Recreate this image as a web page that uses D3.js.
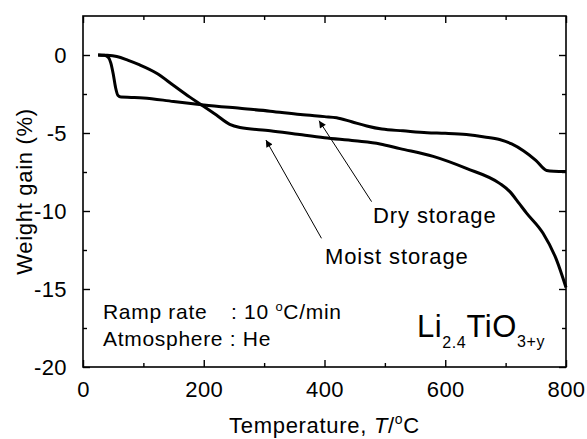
<!DOCTYPE html>
<meta charset="utf-8">
<script src="https://cdn.jsdelivr.net/npm/d3@7"></script>
<style>
body { margin: 0; background: #fff; }
text { font-family: "Liberation Sans", Arial, sans-serif; fill: #000; }
.curve { fill: none; stroke: #000; stroke-width: 3px; stroke-linejoin: round; }
.arrow { stroke: #000; stroke-width: 1px; }
.frame { fill: none; stroke: #000; stroke-width: 1.6px; }
</style>
<body>
<script>

// Temperature (degC) and weight gain (%)
var dryT = [25, 35, 42, 46, 50, 54, 58, 63, 80, 100, 150, 200, 260, 310, 360, 400, 420, 445, 470, 495,
            530, 570, 600, 635, 665, 690, 710, 730, 750, 768, 780, 800];
var dryW = [0, -0.02, -0.15, -0.5, -1.2, -2.1, -2.6, -2.7, -2.72, -2.75, -2.98, -3.2, -3.42, -3.6, -3.82, -3.95, -4.02, -4.28, -4.55, -4.75,
            -4.86, -4.98, -5.02, -5.1, -5.25, -5.42, -5.7, -6.15, -6.75, -7.4, -7.45, -7.47];

var moistT = [25, 40, 56, 75, 94, 122, 149, 177, 199, 221, 243, 260, 310, 359, 400, 450, 492, 525,
              580, 635, 690, 707, 722, 735, 762, 784, 800];
var moistW = [0, -0.02, -0.1, -0.35, -0.64, -1.17, -1.92, -2.7, -3.27, -3.85, -4.45, -4.65, -4.85, -5.1, -5.3, -5.5, -5.7, -6.0,
              -6.5, -7.27, -8.23, -8.76, -9.5, -10.15, -11.43, -13.1, -14.9];

var xTicks = [0, 200, 400, 600, 800];
var xMinor = [100, 300, 500, 700];
var yTicks = [0, -5, -10, -15, -20];
var yMinor = [-2.5, -7.5, -12.5, -17.5];

// arrows: [tipT, tipW, tailT, tailW]
var dryArrow = [391, -4.21, 478, -9.4];
var moistArrow = [303, -5.45, 395, -11.75];

var width = 587, height = 439;
var margin = {top: 16, right: 21, bottom: 72, left: 83};

var x = d3.scaleLinear().domain([0, 800]).range([margin.left, width - margin.right]);
var y = d3.scaleLinear().domain([-20, 2.5]).range([height - margin.bottom, margin.top]);

var fmt = function(d) { return String(d); };  // plain hyphen minus like the original

var svg = d3.select("body").append("svg")
    .attr("width", width)
    .attr("height", height);

svg.append("defs").append("marker")
    .attr("id", "head")
    .attr("viewBox", "0 0 10 10")
    .attr("refX", 10)
    .attr("refY", 5)
    .attr("markerWidth", 9)
    .attr("markerHeight", 7)
    .attr("markerUnits", "userSpaceOnUse")
    .attr("orient", "auto")
  .append("path")
    .attr("d", "M0,0L10,5L0,10z");

// axes, ticks inward
function ax(gen, tx, ty, vals, size, labels, pad) {
  var g = svg.append("g").attr("transform", "translate(" + tx + "," + ty + ")")
      .call(gen.tickValues(vals).tickSizeInner(-size).tickSizeOuter(0)
               .tickPadding(pad || 3).tickFormat(labels ? fmt : ""));
  g.select(".domain").remove();
  return g;
}
ax(d3.axisBottom(x), 0, y(-20), xTicks, 7, true, 14);
ax(d3.axisBottom(x), 0, y(-20), xMinor, 4, false);
ax(d3.axisTop(x), 0, y(2.5), xTicks, 7, false);
ax(d3.axisTop(x), 0, y(2.5), xMinor, 4, false);
ax(d3.axisLeft(y), x(0), 0, yTicks, 7, true, 16);
ax(d3.axisLeft(y), x(0), 0, yMinor, 4, false);
ax(d3.axisRight(y), x(800), 0, yTicks, 7, false);
ax(d3.axisRight(y), x(800), 0, yMinor, 4, false);

svg.append("rect").attr("class", "frame")
    .attr("x", x(0)).attr("y", y(2.5))
    .attr("width", x(800) - x(0)).attr("height", y(-20) - y(2.5));

svg.selectAll(".tick line").attr("stroke-width", 1.4);
svg.selectAll(".tick text").attr("font-size", 22).attr("letter-spacing", 0.4)
    .attr("font-family", "Liberation Sans, Arial, sans-serif");

var line = d3.line()
    .x(function(d) { return x(d[0]); })
    .y(function(d) { return y(d[1]); })
    .curve(d3.curveMonotoneX);

svg.append("path").attr("class", "curve")
    .attr("d", line(d3.zip(dryT, dryW)));
svg.append("path").attr("class", "curve")
    .attr("d", line(d3.zip(moistT, moistW)));

[dryArrow, moistArrow].forEach(function(a) {
  svg.append("line").attr("class", "arrow")
      .attr("x1", x(a[2])).attr("y1", y(a[3]))
      .attr("x2", x(a[0])).attr("y2", y(a[1]))
      .attr("marker-end", "url(#head)");
});

svg.append("text").attr("x", 373).attr("y", 223).attr("font-size", 22).attr("letter-spacing", 0.9).text("Dry storage");
svg.append("text").attr("x", 325).attr("y", 264).attr("font-size", 22).attr("letter-spacing", 0.9).text("Moist storage");

svg.append("text").attr("x", 103).attr("y", 319).attr("font-size", 21).attr("letter-spacing", 0.7).text("Ramp rate");
var ramp = svg.append("text").attr("x", 231).attr("y", 319).attr("font-size", 21).attr("letter-spacing", 0.7);
ramp.append("tspan").text(": 10 ");
ramp.append("tspan").attr("font-size", 13).attr("dy", -8).text("o");
ramp.append("tspan").attr("dy", 8).text("C/min");
svg.append("text").attr("x", 103).attr("y", 346).attr("font-size", 21).attr("letter-spacing", 0.7).text("Atmosphere : He");

var formula = svg.append("text").attr("x", 417).attr("y", 337).attr("font-size", 31).attr("letter-spacing", 0.6);
formula.append("tspan").text("Li");
formula.append("tspan").attr("font-size", 16).attr("dy", 11).text("2.4");
formula.append("tspan").attr("dy", -11).text("TiO");
formula.append("tspan").attr("font-size", 16).attr("dy", 10).text("3+y");

var xt = svg.append("text").attr("x", (x(0) + x(800)) / 2).attr("y", 433)
    .attr("text-anchor", "middle").attr("font-size", 22).attr("letter-spacing", 0.7);
xt.append("tspan").text("Temperature, ");
xt.append("tspan").attr("font-style", "italic").text("T");
xt.append("tspan").text("/");
xt.append("tspan").attr("font-size", 14).attr("dy", -9).text("o");
xt.append("tspan").attr("dy", 9).text("C");

svg.append("text")
    .attr("transform", "translate(32," + (y(-20) + y(2.5)) / 2 + ") rotate(-90)")
    .attr("text-anchor", "middle").attr("font-size", 22).attr("letter-spacing", 0.7)
    .text("Weight gain (%)");

</script>
</body>
